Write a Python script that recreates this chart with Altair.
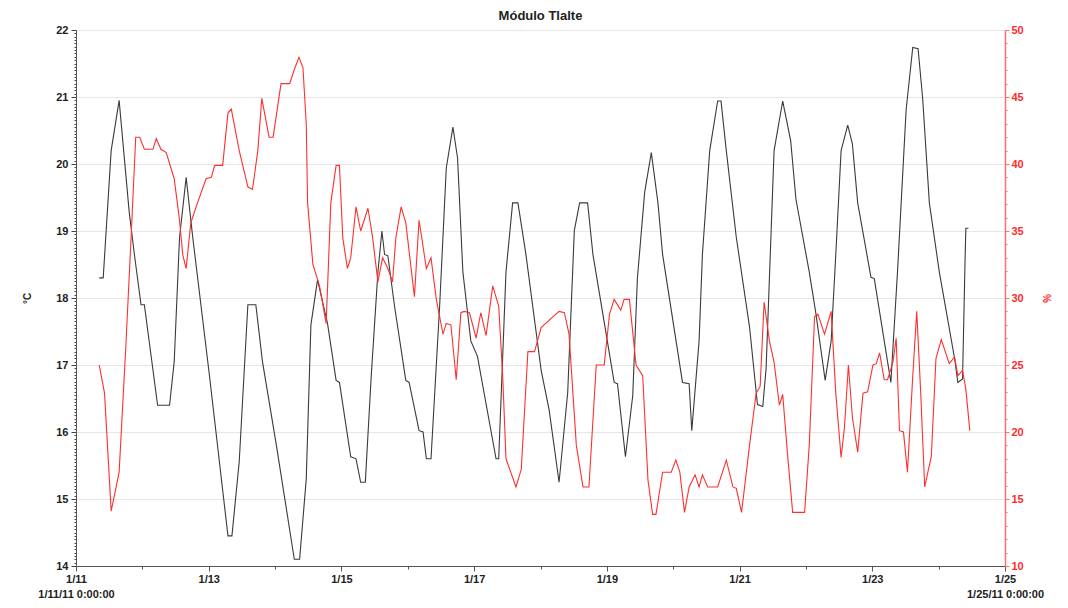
import altair as alt
import pandas as pd

# Temperature (°C) series: day of January 2011 (fractional) and value
temp_day = [11.35, 11.41, 11.53, 11.65, 11.8, 11.88, 11.98, 12.03, 12.23, 12.41, 12.48, 12.56,
            12.66, 12.76, 13.01, 13.29, 13.35, 13.46, 13.59, 13.71, 13.81, 14.02, 14.29, 14.37,
            14.47, 14.54, 14.64, 14.79, 14.92, 14.97, 15.14, 15.22, 15.29, 15.36, 15.45, 15.55,
            15.61, 15.65, 15.7, 15.8, 15.97, 16.02, 16.17, 16.23, 16.28, 16.35, 16.48, 16.58,
            16.68, 16.75, 16.83, 16.95, 17.05, 17.33, 17.37, 17.48, 17.58, 17.66, 17.78, 18.01,
            18.13, 18.28, 18.41, 18.51, 18.59, 18.71, 18.79, 18.99, 19.11, 19.16, 19.28, 19.39,
            19.46, 19.57, 19.67, 19.77, 19.84, 20.14, 20.24, 20.28, 20.39, 20.44, 20.55, 20.67,
            20.72, 20.8, 20.95, 21.15, 21.27, 21.35, 21.4, 21.52, 21.65, 21.77, 21.85, 22.05,
            22.15, 22.29, 22.38, 22.45, 22.53, 22.63, 22.7, 22.78, 22.98, 23.03, 23.18, 23.28,
            23.38, 23.51, 23.61, 23.69, 23.76, 23.86, 24.01, 24.24, 24.29, 24.36, 24.4, 24.41,
            24.45]
temp_c = [18.3, 18.3, 20.2, 20.95, 19.3, 18.65, 17.9, 17.9, 16.4, 16.4, 17.05, 18.9,
          19.8, 18.9, 16.85, 14.45, 14.45, 15.56, 17.9, 17.9, 17.05, 15.8, 14.1, 14.1,
          15.3, 17.6, 18.27, 17.62, 16.77, 16.74, 15.63, 15.6, 15.25, 15.25, 16.85, 18.39,
          19.0, 18.65, 18.63, 17.88, 16.77, 16.74, 16.02, 16.0, 15.6, 15.6, 17.88, 19.94,
          20.55, 20.09, 18.39, 17.36, 17.13, 15.6, 15.6, 18.39, 19.42, 19.42, 18.65, 16.92,
          16.33, 15.25, 16.59, 19.01, 19.42, 19.42, 18.65, 17.46, 16.74, 16.72, 15.63, 16.54,
          18.29, 19.58, 20.17, 19.42, 18.65, 16.74, 16.72, 16.02, 17.36, 18.65, 20.2, 20.94,
          20.94, 20.2, 18.91, 17.57, 16.41, 16.38, 16.95, 20.2, 20.94, 20.35, 19.47, 18.39,
          17.77, 16.77, 17.36, 18.65, 20.2, 20.58, 20.3, 19.42, 18.31, 18.29, 17.36, 16.74,
          18.39, 20.81, 21.74, 21.72, 20.97, 19.42, 18.39, 17.1, 16.74, 16.79, 18.65, 19.04,
          19.04]

# Relative humidity (%) series
hum_day = [11.35, 11.43, 11.53, 11.65, 11.75, 11.83, 11.9, 11.96, 12.03, 12.16, 12.21, 12.28,
           12.36, 12.48, 12.56, 12.61, 12.66, 12.73, 12.81, 12.96, 13.04, 13.09, 13.21, 13.29,
           13.34, 13.46, 13.59, 13.66, 13.74, 13.8, 13.91, 13.97, 14.09, 14.22, 14.29, 14.36,
           14.42, 14.47, 14.49, 14.57, 14.67, 14.77, 14.84, 14.92, 14.97, 15.02, 15.09, 15.14,
           15.22, 15.29, 15.4, 15.47, 15.55, 15.62, 15.7, 15.77, 15.82, 15.9, 15.97, 16.1,
           16.17, 16.28, 16.35, 16.43, 16.53, 16.58, 16.65, 16.73, 16.8, 16.85, 16.93, 17.03,
           17.1, 17.18, 17.28, 17.37, 17.43, 17.48, 17.63, 17.71, 17.81, 17.91, 18.01, 18.21,
           18.28, 18.36, 18.43, 18.54, 18.64, 18.73, 18.84, 18.96, 19.04, 19.11, 19.21, 19.26,
           19.34, 19.44, 19.54, 19.62, 19.69, 19.74, 19.84, 19.97, 20.04, 20.1, 20.17, 20.24,
           20.33, 20.39, 20.44, 20.52, 20.67, 20.8, 20.9, 20.95, 21.03, 21.15, 21.25, 21.31,
           21.37, 21.45, 21.52, 21.6, 21.65, 21.72, 21.8, 21.98, 22.05, 22.13, 22.18, 22.28,
           22.38, 22.45, 22.53, 22.58, 22.64, 22.7, 22.78, 22.86, 22.93, 23.01, 23.06, 23.11,
           23.18, 23.23, 23.31, 23.36, 23.41, 23.47, 23.53, 23.61, 23.67, 23.73, 23.79, 23.89,
           23.96, 24.04, 24.16, 24.24, 24.29, 24.36, 24.41, 24.47]
hum_pct = [25.0, 22.9, 14.1, 17.0, 26.3, 34.5, 42.0, 42.0, 41.1, 41.1, 41.9, 41.1,
           40.85, 38.9, 35.8, 33.2, 32.2, 35.6, 36.8, 38.9, 39.0, 39.9, 39.9, 43.8,
           44.1, 41.0, 38.3, 38.1, 41.0, 44.9, 42.0, 42.0, 46.0, 46.0, 47.05, 47.96,
           47.2, 43.0, 37.1, 32.5, 30.9, 28.1, 37.1, 39.9, 39.9, 34.5, 32.2, 33.0,
           36.8, 35.0, 36.7, 34.5, 31.2, 33.0, 32.2, 31.2, 34.5, 36.8, 35.6, 30.1,
           35.8, 32.2, 33.0, 29.9, 27.3, 28.1, 28.0, 23.9, 28.9, 29.0, 28.9, 27.0,
           28.9, 27.2, 30.9, 29.4, 24.2, 18.0, 15.9, 17.2, 26.0, 26.0, 27.8, 28.7,
           29.0, 28.9, 27.3, 19.0, 15.9, 15.9, 25.0, 25.0, 28.8, 29.9, 29.1, 29.9,
           29.9, 25.0, 24.2, 16.4, 13.85, 13.85, 17.0, 17.0, 17.9, 17.0, 14.0, 15.9,
           16.8, 15.9, 16.8, 15.9, 15.9, 17.9, 15.9, 15.8, 14.0, 19.0, 22.9, 23.4,
           29.7, 26.8, 25.2, 22.0, 22.8, 18.5, 14.0, 14.0, 19.0, 28.6, 28.8, 27.3,
           29.0, 22.9, 18.1, 20.3, 25.0, 21.1, 18.5, 22.9, 23.0, 25.0, 25.1, 25.9,
           23.9, 23.9, 25.2, 27.0, 20.1, 20.0, 17.0, 24.2, 29.0, 22.9, 15.9, 18.2,
           25.5, 26.9, 25.1, 25.6, 24.2, 24.6, 23.2, 20.1]

x_ticks = list(range(11, 26))
temp_ticks = [round(14 + i * 0.05, 2) for i in range(161)]
hum_ticks = list(range(10, 51))

temp_df = pd.DataFrame({"day": temp_day, "temp": temp_c})
hum_df = pd.DataFrame({"day": hum_day, "hum": hum_pct})

FONT = "Liberation Sans"
W, H = 929, 536

x_label = ("datum.value % 2 === 1 ? (datum.value === 11 ? ['1/11', '1/11/11 0:00:00'] : "
           "(datum.value === 25 ? ['1/25', '1/25/11 0:00:00'] : '1/' + datum.value)) : ''")

x_enc = alt.X(
    "day:Q",
    scale=alt.Scale(domain=[11, 25], nice=False, zero=False),
    axis=alt.Axis(
        values=x_ticks, labelExpr=x_label, title=None, grid=False,
        labelFlush=False, labelOverlap=False, labelFont=FONT, labelFontSize=11,
        labelFontWeight="bold", labelColor="#222222", labelPadding=2, labelLineHeight=15,
        domainColor="#555555", tickColor="#555555",
        tickSize={"condition": {"test": "datum.value % 2 === 1", "value": 5}, "value": 3},
    ),
)

int_test = "abs(datum.value - round(datum.value)) < 0.001"

temp_line = alt.Chart(temp_df).mark_line(color="#3a3a3a", strokeWidth=1.1).encode(
    x=x_enc,
    y=alt.Y(
        "temp:Q",
        scale=alt.Scale(domain=[14, 22], nice=False, zero=False),
        axis=alt.Axis(
            values=temp_ticks, labelExpr=f"{int_test} ? '' + round(datum.value) : ''",
            labelOverlap=False, labelFont=FONT, labelFontSize=11, labelFontWeight="bold",
            labelColor="#222222", labelPadding=3,
            domainColor="#555555", tickColor="#444444",
            tickSize={"condition": {"test": int_test, "value": 5}, "value": 2},
            grid=True, gridColor="#e6e6e6",
            gridOpacity={"condition": {"test": int_test, "value": 1}, "value": 0},
            title="°C", titleFont=FONT, titleFontSize=10, titleFontWeight="bold",
            titleColor="#222222", titleX=-44, titleY=H / 2,
        ),
    ),
)

hum_line = alt.Chart(hum_df).mark_line(color="#ff2f2f", strokeWidth=1.1).encode(
    x=x_enc,
    y=alt.Y(
        "hum:Q",
        scale=alt.Scale(domain=[10, 50], nice=False, zero=False),
        axis=alt.Axis(
            orient="right", values=hum_ticks,
            labelExpr="datum.value % 5 === 0 ? '' + datum.value : ''",
            labelOverlap=False, labelFont=FONT, labelFontSize=11, labelFontWeight="bold",
            labelColor="#ff2a2a", labelPadding=2,
            domainColor="#ff7070", domainWidth=1.5, tickColor="#ff7070",
            tickSize={"condition": {"test": "datum.value % 5 === 0", "value": 4}, "value": 2},
            grid=False,
            title="%", titleFont=FONT, titleFontSize=10, titleFontWeight="bold",
            titleColor="#ff2a2a", titleX=35, titleY=H / 2,
        ),
    ),
)

chart = (
    alt.layer(temp_line, hum_line)
    .resolve_scale(y="independent")
    .properties(
        width=W, height=H,
        title=alt.TitleParams("Módulo Tlalte", font=FONT, fontSize=13, fontWeight="bold",
                              color="#222222", anchor="middle", offset=1),
        autosize=alt.AutoSizeParams(type="none"),
        padding={"left": 68, "top": 22, "right": 55, "bottom": 34},
    )
    .configure_view(stroke=None)
    .configure(background="white")
)

chart.save("out.html", embed_options={"renderer": "svg", "actions": False})
